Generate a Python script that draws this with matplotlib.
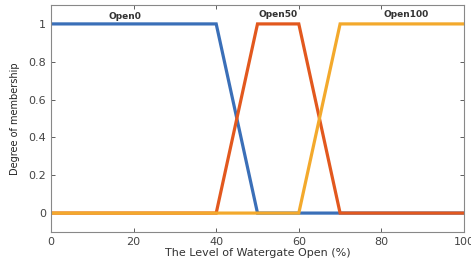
import matplotlib.pyplot as plt

# membership function breakpoints (x in %, degree of membership)
x_open0 = [0, 40, 50, 100]
y_open0 = [1, 1, 0, 0]
x_open50 = [0, 40, 50, 60, 70, 100]
y_open50 = [0, 0, 1, 1, 0, 0]
x_open100 = [0, 60, 70, 100]
y_open100 = [0, 0, 1, 1]

labels = ['Open0', 'Open50', 'Open100']
label_x = [18, 55, 86]
label_y = [1.04, 1.05, 1.05]

colors = ['#3A6FB8', '#E2581E', '#F3A92C']

fig = plt.figure(figsize=(4.71, 2.64), dpi=100)
ax = fig.add_axes([51 / 471, 32 / 264, 413 / 471, 227 / 264])

ax.plot(x_open0, y_open0, color=colors[0], lw=2.3, solid_joinstyle='miter')
ax.plot(x_open50, y_open50, color=colors[1], lw=2.3, solid_joinstyle='miter')
ax.plot(x_open100, y_open100, color=colors[2], lw=2.3, solid_joinstyle='miter')

for lab, lx, ly in zip(labels, label_x, label_y):
    ax.text(lx, ly, lab, ha='center', va='center', fontsize=6.5,
            fontweight='bold', color='#333333')

ax.set_xlim(0, 100)
ax.set_ylim(-0.1, 1.1)
ax.set_xticks([0, 20, 40, 60, 80, 100])
ax.set_yticks([0, 0.2, 0.4, 0.6, 0.8, 1])
ax.set_yticklabels(['0', '0.2', '0.4', '0.6', '0.8', '1'])
ax.tick_params(direction='in', top=True, right=True, length=3,
               labelsize=8, colors='#444444', width=0.6)
for sp in ax.spines.values():
    sp.set_color('#888888')
    sp.set_linewidth(0.8)

ax.set_xlabel('The Level of Watergate Open (%)', fontsize=8, color='#333333',
              labelpad=1)
ax.set_ylabel('Degree of membership', fontsize=7, color='#222222',
              labelpad=6)

fig.savefig('out.png', dpi=100)
